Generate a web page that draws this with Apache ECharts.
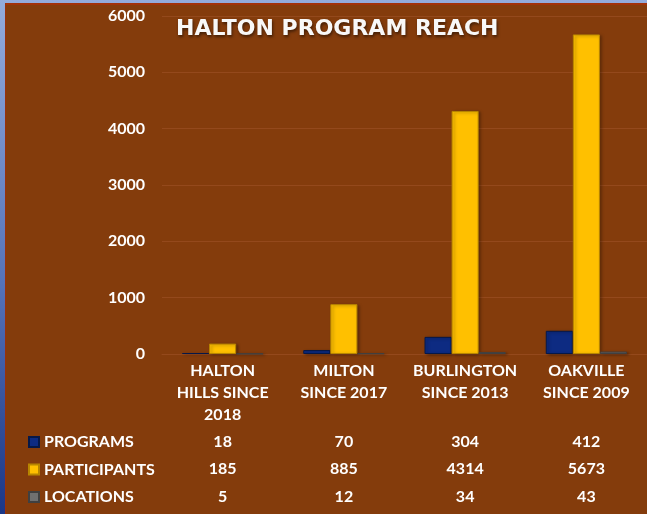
<!DOCTYPE html>
<html>
<head>
<meta charset="utf-8">
<script src="https://cdn.jsdelivr.net/npm/echarts@6/dist/echarts.min.js"></script>
<style>
  html, body { margin: 0; padding: 0; width: 647px; height: 514px; overflow: hidden; }
  body { background: linear-gradient(to bottom, #93ACDC 0%, #5573B8 55%, #1B3787 100%); position: relative; }
  #panel { position: absolute; left: 5px; top: 3px; width: 641px; height: 509px; background: #843C0C; border-top: 2px solid #A2320A; border-left: 1px solid #9A300C; }
  #main { position: absolute; left: 0; top: 0; width: 647px; height: 514px; }
</style>
</head>
<body>
<div id="panel"></div>
<div id="main"></div>
<script>
// categories and values
const categories = ['HALTON\nHILLS SINCE\n2018', 'MILTON\nSINCE 2017', 'BURLINGTON\nSINCE 2013', 'OAKVILLE\nSINCE 2009'];
const seriesNames = ['PROGRAMS', 'PARTICIPANTS', 'LOCATIONS'];
const programs = [18, 70, 304, 412];
const participants = [185, 885, 4314, 5673];
const locations = [5, 12, 34, 43];
const yTicks = [0, 1000, 2000, 3000, 4000, 5000, 6000];

const colors = ['#0D2B82', '#FFC000', '#707070'];
const borders = ['#061848', '#B88600', '#404040'];
const font = 'Lato, "Open Sans", sans-serif';

const chart = echarts.init(document.getElementById('main'), null, { renderer: 'canvas' });

const allValues = [programs, participants, locations];

const option = {
  backgroundColor: 'transparent',
  animation: false,
  title: {
    text: 'HALTON PROGRAM REACH',
    left: 176,
    top: 18,
    padding: 0,
    textStyle: {
      color: '#F8F8F8',
      fontFamily: '"DejaVu Sans", sans-serif',
      fontWeight: 'bold',
      fontSize: 22,
      textShadowColor: 'rgba(0,0,0,0.5)',
      textShadowBlur: 3,
      textShadowOffsetX: 1,
      textShadowOffsetY: 2,
    },
  },
  grid: {
    left: 162,
    right: 0,
    top: 16,
    bottom: 160,
  },
  legend: {
    orient: 'vertical',
    left: 28,
    top: 434,
    padding: 0,
    itemWidth: 10,
    itemHeight: 10,
    itemGap: 11.5,
    icon: 'rect',
    selectedMode: false,
    data: seriesNames,
    textStyle: {
      color: '#FFFFFF',
      fontFamily: font,
      fontWeight: 'bold',
      fontSize: 16,
      lineHeight: 16,
    },
  },
  xAxis: {
    type: 'category',
    data: categories,
    axisTick: { show: false },
    axisLine: { lineStyle: { color: '#94491C', width: 1 } },
    axisLabel: {
      color: '#FFFFFF',
      fontFamily: font,
      fontWeight: 'bold',
      fontSize: 16,
      lineHeight: 22,
      margin: 6,
      interval: 0,
      align: 'center',
    },
  },
  yAxis: {
    type: 'value',
    min: yTicks[0],
    max: yTicks[yTicks.length - 1],
    interval: 1000,
    axisLine: { show: false },
    axisTick: { show: false },
    splitLine: { lineStyle: { color: '#94491C', width: 1 } },
    axisLabel: {
      color: '#FFFFFF',
      fontFamily: font,
      fontWeight: 'bold',
      fontSize: 16,
      margin: 17,
      formatter: (v) => String(v),
    },
  },
  series: seriesNames.map((name, i) => ({
    name: name,
    type: 'bar',
    data: allValues[i],
    barGap: '0%',
    barCategoryGap: '33%',
    itemStyle: {
      color: colors[i],
      borderColor: borders[i],
      borderWidth: 1,
      shadowColor: 'rgba(0,0,0,0.35)',
      shadowBlur: 3,
      shadowOffsetX: 2,
      shadowOffsetY: 1,
    },
  })),
};

chart.setOption(option);

// data table under the axis, one row per series, aligned to the category centres
const rowY = [442, 469, 497];
const tableTexts = [];
allValues.forEach((vals, r) => {
  vals.forEach((v, c) => {
    const x = chart.convertToPixel({ xAxisIndex: 0 }, c);
    tableTexts.push({
      type: 'text',
      x: x,
      y: rowY[r],
      style: {
        text: String(v),
        fill: '#FFFFFF',
        font: 'bold 16px ' + font,
        textAlign: 'center',
        textVerticalAlign: 'middle',
      },
    });
  });
});

chart.setOption({ graphic: tableTexts });
</script>
</body>
</html>
